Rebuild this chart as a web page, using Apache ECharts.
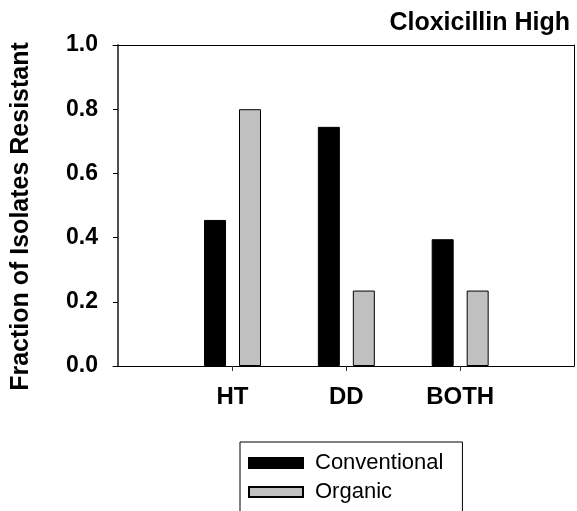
<!DOCTYPE html>
<html>
<head>
<meta charset="utf-8">
<script src="https://cdn.jsdelivr.net/npm/echarts@6/dist/echarts.min.js"></script>
<style>
html,body{margin:0;padding:0;background:#fff;}
#chart{width:577px;height:511px;}
</style>
</head>
<body>
<div id="chart"></div>
<script>
const categories = ['HT', 'DD', 'BOTH'];
const categoryPositions = [1, 2, 3];
const conventional = [0.455, 0.745, 0.395];
const organic = [0.80, 0.235, 0.235];

const font = '"Liberation Sans", Arial, sans-serif';
const chart = echarts.init(document.getElementById('chart'));
chart.setOption({
  animation: false,
  backgroundColor: '#fff',
  title: {
    text: 'Cloxicillin High', right: 2, top: 6,
    textStyle: { fontFamily: font, fontSize: 25, fontWeight: 'bold', color: '#000' }
  },
  legend: {
    orient: 'vertical', left: 240, top: 442, height: 120,
    data: ['Conventional', 'Organic'],
    itemWidth: 54, itemHeight: 10, itemGap: 7,
    padding: [10, 19, 20, 8],
    borderColor: '#000', borderWidth: 1,
    textStyle: { fontFamily: font, fontSize: 22, color: '#000', padding: [0, 0, 0, 7] },
    icon: 'rect'
  },
  grid: { left: 113, right: 3, top: 45, bottom: 145 },
  xAxis: [{
    type: 'value', min: -0.05, max: 4, position: 'bottom',
    splitLine: { show: false },
    axisLine: { show: true, onZero: false, lineStyle: { color: '#000', width: 1 } },
    axisTick: { show: true, customValues: categoryPositions, length: 5, lineStyle: { color: '#333' } },
    axisLabel: {
      customValues: categoryPositions, margin: 19,
      formatter: v => categories[categoryPositions.indexOf(Math.round(v))] || '',
      fontFamily: font, fontSize: 24, fontWeight: 'bold', color: '#000'
    }
  }, {
    type: 'value', min: -0.05, max: 4, position: 'top',
    splitLine: { show: false },
    axisLine: { show: true, onZero: false, lineStyle: { color: '#000', width: 1 } },
    axisTick: { show: false }, axisLabel: { show: false }
  }],
  yAxis: [{
    type: 'value', min: 0, max: 1, interval: 0.2, offset: -5,
    splitLine: { show: false },
    axisLine: { show: true, onZero: false, lineStyle: { color: '#505050', width: 2 } },
    axisTick: { show: true, length: 5, lineStyle: { color: '#000' } },
    axisLabel: {
      margin: 20, formatter: v => v.toFixed(1),
      fontFamily: font, fontSize: 23, fontWeight: 'bold', color: '#000'
    },
    name: 'Fraction of Isolates Resistant', nameLocation: 'middle', nameGap: 84,
    nameTextStyle: { fontFamily: font, fontSize: 25, fontWeight: 'bold', color: '#000', padding: [0, 22, 0, 0] }
  }, {
    type: 'value', min: 0, max: 1, position: 'right',
    splitLine: { show: false },
    axisLine: { show: true, onZero: false, lineStyle: { color: '#000', width: 1 } },
    axisTick: { show: false }, axisLabel: { show: false }
  }],
  series: [{
    name: 'Conventional', type: 'bar',
    data: categoryPositions.map((p, i) => [p, conventional[i]]),
    barWidth: 22, barGap: '59%',
    itemStyle: { color: '#000', borderColor: '#000', borderWidth: 1 }
  }, {
    name: 'Organic', type: 'bar',
    data: categoryPositions.map((p, i) => [p, organic[i]]),
    barWidth: 22, barGap: '59%',
    itemStyle: { color: '#c0c0c0', borderColor: '#000', borderWidth: 1 }
  }]
});
</script>
</body>
</html>
